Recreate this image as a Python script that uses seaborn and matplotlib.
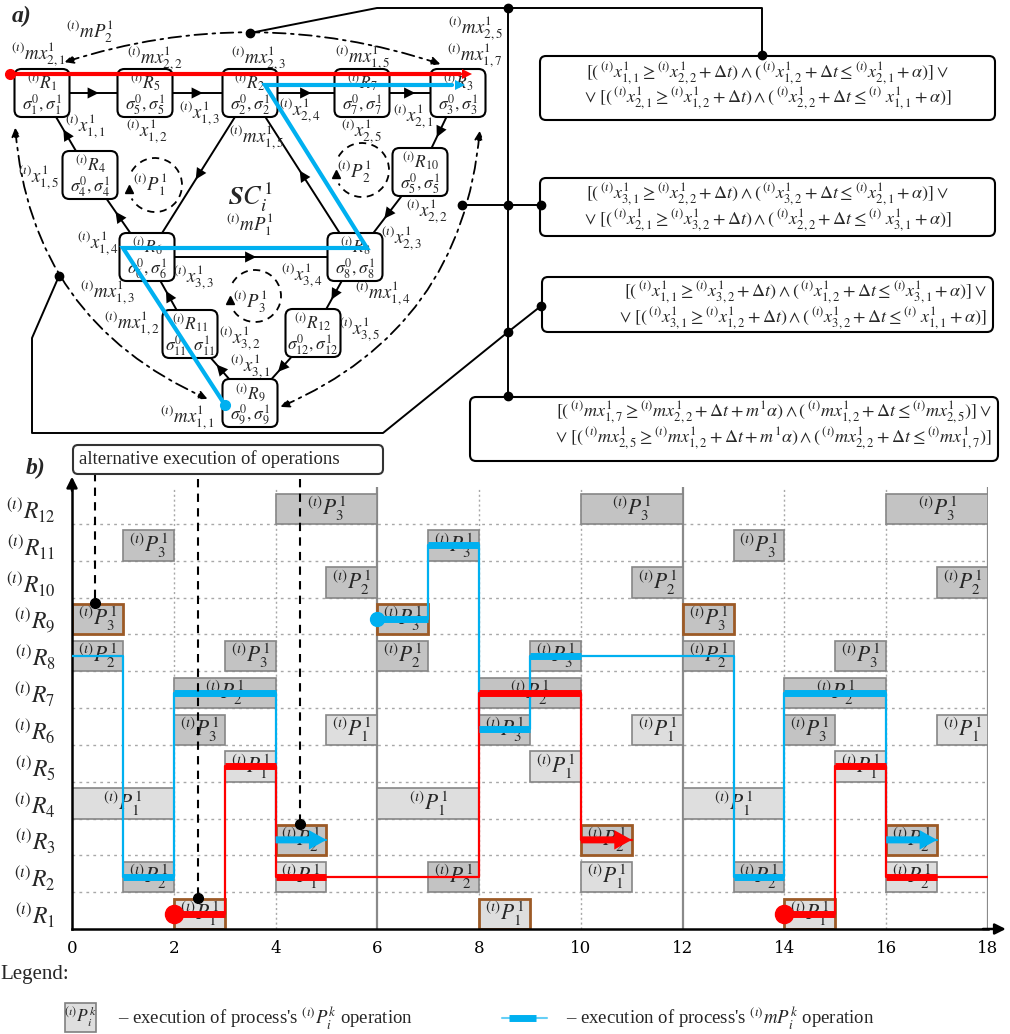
import matplotlib
matplotlib.use("Agg")
import matplotlib.pyplot as plt
import seaborn as sns
import pandas as pd
from matplotlib.patches import FancyBboxPatch, Arc, FancyArrowPatch

# ====================== (b) schedule data ======================
time_ticks = [0, 2, 4, 6, 8, 10, 12, 14, 16, 18]
resources = list(range(1, 13))
row_labels = [r"${}^{(\imath)}R_{%d}$" % r for r in resources]

op_row = [1, 1, 1,
          2, 2, 2, 2, 2, 2,
          3, 3, 3,
          4, 4, 4,
          5, 5, 5,
          6, 6, 6, 6, 6, 6,
          7, 7, 7,
          8, 8, 8, 8, 8, 8,
          9, 9, 9,
          10, 10, 10,
          11, 11, 11,
          12, 12, 12]
op_start = [2, 8, 14,
            1, 4, 7, 10, 13, 16,
            4, 10, 16,
            0, 6, 12,
            3, 9, 15,
            2, 5, 8, 11, 14, 17,
            2, 8, 14,
            0, 3, 6, 9, 12, 15,
            0, 6, 12,
            5, 11, 17,
            1, 7, 13,
            4, 10, 16]
op_end = [3, 9, 15,
          2, 5, 8, 11, 14, 17,
          5, 11, 17,
          2, 8, 14,
          4, 10, 16,
          3, 6, 9, 12, 15, 18,
          4, 10, 16,
          1, 4, 7, 10, 13, 16,
          1, 7, 13,
          6, 12, 18,
          2, 8, 14,
          6, 12, 18]
op_proc = [1, 1, 1,
           2, 1, 2, 1, 2, 2,
           2, 2, 2,
           1, 1, 1,
           1, 1, 1,
           3, 1, 3, 1, 3, 1,
           2, 2, 2,
           2, 3, 2, 3, 2, 3,
           3, 3, 3,
           2, 2, 2,
           3, 3, 3,
           3, 3, 3]
op_shade = ["L", "L", "L",
            "D", "L", "D", "L", "D", "L",
            "D", "D", "D",
            "L", "L", "L",
            "L", "L", "L",
            "D", "L", "D", "L", "D", "L",
            "D", "D", "D",
            "D", "D", "D", "D", "D", "D",
            "D", "D", "D",
            "D", "D", "D",
            "D", "D", "D",
            "D", "D", "D"]
op_alt = [1, 1, 1,
          0, 0, 0, 0, 0, 0,
          1, 1, 1,
          0, 0, 0,
          0, 0, 0,
          0, 0, 0, 0, 0, 0,
          0, 0, 0,
          0, 0, 0, 0, 0, 0,
          1, 1, 1,
          0, 0, 0,
          0, 0, 0,
          0, 0, 0]

# multimodal process (i)mP (blue) route: times and resources
mp_route_a_t = [-0.15, 1, 1, 2, 2, 4, 4, 5]
mp_route_a_r = [8, 8, 2, 2, 7, 7, 3, 3]
mp_route_b_t = [6, 7, 7, 8, 8, 9, 9, 13, 13, 14, 14, 16, 16, 17]
mp_route_b_r = [9, 9, 11, 11, 6, 6, 8, 8, 2, 2, 7, 7, 3, 3]
mp_ops_r = [2, 7, 3, 9, 11, 6, 8, 2, 7, 3]
mp_ops_s = [1, 2, 4, 6, 7, 8, 9, 13, 14, 16]
mp_ops_e = [2, 4, 5, 7, 8, 9, 10, 14, 16, 17]
mp_ops_arrow = [0, 0, 1, 0, 0, 0, 0, 0, 0, 1]
mp_start_t, mp_start_r = [6], [9]

# process (i)P (red) route
p_route_a_t = [2, 3, 3, 4, 4, 8, 8, 10, 10, 11]
p_route_a_r = [1, 1, 5, 5, 2, 2, 7, 7, 3, 3]
p_route_b_t = [14, 15, 15, 16, 16, 18]
p_route_b_r = [1, 1, 5, 5, 2, 2]
p_ops_r = [1, 5, 2, 7, 3, 1, 5, 2]
p_ops_s = [2, 3, 4, 8, 10, 14, 15, 16]
p_ops_e = [3, 4, 5, 10, 11, 15, 16, 17]
p_ops_arrow = [0, 0, 0, 0, 1, 0, 0, 0]
p_start_t, p_start_r = [2, 14], [1, 1]

# alternative execution markers (time, resource)
alt_mark_t = [0.45, 2.47, 4.49]
alt_mark_r = [9, 1, 3]

# ====================== (a) diagram content ======================
node_ids = [1, 5, 2, 7, 3, 4, 10, 6, 8, 11, 12, 9]
node_sig = [1, 5, 2, 7, 3, 4, 5, 6, 8, 11, 12, 9]
node_px = [42, 145, 250, 362, 458, 90, 420, 147, 355, 190, 313, 250]
node_py = [93, 93, 93, 93, 93, 175, 172, 257, 257, 334, 333, 403]
edges = [(1, 5), (5, 2), (2, 7), (7, 3), (3, 10), (10, 8), (8, 12), (12, 9),
         (9, 11), (11, 6), (6, 4), (4, 1), (2, 6), (8, 2), (6, 8)]
diag_labels = [
    (r"${}^{(\imath)}mP^1_2$", 90, 32),
    (r"${}^{(\imath)}mx^1_{2,1}$", 38, 54),
    (r"${}^{(\imath)}mx^1_{2,2}$", 155, 58),
    (r"${}^{(\imath)}mx^1_{2,3}$", 258, 58),
    (r"${}^{(\imath)}mx^1_{1,5}$", 362, 57),
    (r"${}^{(\imath)}mx^1_{2,5}$", 475, 28),
    (r"${}^{(\imath)}mx^1_{1,7}$", 475, 55),
    (r"${}^{(\imath)}x^1_{1,1}$", 85, 126),
    (r"${}^{(\imath)}x^1_{1,2}$", 147, 131),
    (r"${}^{(\imath)}x^1_{1,3}$", 200, 113),
    (r"${}^{(\imath)}x^1_{2,4}$", 300, 110),
    (r"${}^{(\imath)}mx^1_{1,5}$", 256, 137),
    (r"${}^{(\imath)}x^1_{2,1}$", 413, 116),
    (r"${}^{(\imath)}x^1_{2,5}$", 362, 131),
    (r"${}^{(\imath)}x^1_{1,5}$", 39, 177),
    (r"${}^{(\imath)}P^1_1$", 150, 185),
    (r"${}^{(\imath)}P^1_2$", 354, 172),
    (r"${}^{(\imath)}P^1_3$", 250, 302),
    (r"${}^{(\imath)}mP^1_1$", 250, 225),
    (r"${}^{(\imath)}x^1_{2,2}$", 427, 211),
    (r"${}^{(\imath)}x^1_{1,4}$", 98, 243),
    (r"${}^{(\imath)}x^1_{2,3}$", 402, 238),
    (r"${}^{(\imath)}x^1_{3,3}$", 194, 277),
    (r"${}^{(\imath)}x^1_{3,4}$", 302, 275),
    (r"${}^{(\imath)}mx^1_{1,3}$", 107, 292),
    (r"${}^{(\imath)}mx^1_{1,4}$", 383, 293),
    (r"${}^{(\imath)}mx^1_{1,2}$", 132, 323),
    (r"${}^{(\imath)}x^1_{3,2}$", 240, 338),
    (r"${}^{(\imath)}x^1_{3,5}$", 360, 329),
    (r"${}^{(\imath)}x^1_{3,1}$", 250, 366),
    (r"${}^{(\imath)}mx^1_{1,1}$", 187, 417),
]
formulas = [
    (r"$[(\,{}^{(\imath)}x^1_{1,1} \geq {}^{(\imath)}x^1_{2,2} + \Delta t) \wedge (\,{}^{(\imath)}x^1_{1,2} + \Delta t \leq {}^{(\imath)}x^1_{2,1} + \alpha)] \vee$",
     r"$\vee\ [(\,{}^{(\imath)}x^1_{2,1} \geq {}^{(\imath)}x^1_{1,2} + \Delta t) \wedge (\,{}^{(\imath)}x^1_{2,2} + \Delta t \leq{}^{(\imath)}\ x^1_{1,1} + \alpha)]$"),
    (r"$[(\,{}^{(\imath)}x^1_{3,1} \geq {}^{(\imath)}x^1_{2,2} + \Delta t) \wedge (\,{}^{(\imath)}x^1_{3,2} + \Delta t \leq {}^{(\imath)}x^1_{2,1} + \alpha)] \vee$",
     r"$\vee\ [(\,{}^{(\imath)}x^1_{2,1} \geq {}^{(\imath)}x^1_{3,2} + \Delta t) \wedge (\,{}^{(\imath)}x^1_{2,2} + \Delta t \leq{}^{(\imath)}\ x^1_{3,1} + \alpha)]$"),
    (r"$[(\,{}^{(\imath)}x^1_{1,1} \geq {}^{(\imath)}x^1_{3,2} + \Delta t) \wedge (\,{}^{(\imath)}x^1_{1,2} + \Delta t \leq {}^{(\imath)}x^1_{3,1} + \alpha)] \vee$",
     r"$\vee\ [(\,{}^{(\imath)}x^1_{3,1} \geq {}^{(\imath)}x^1_{1,2} + \Delta t) \wedge (\,{}^{(\imath)}x^1_{3,2} + \Delta t \leq{}^{(\imath)}\ x^1_{1,1} + \alpha)]$"),
    (r"$[(\,{}^{(\imath)}mx^1_{1,7} \geq {}^{(\imath)}mx^1_{2,2} + \Delta t + m^1\alpha) \wedge (\,{}^{(\imath)}mx^1_{1,2} + \Delta t \leq {}^{(\imath)}mx^1_{2,5})] \vee$",
     r"$\vee\ [(\,{}^{(\imath)}mx^1_{2,5} \geq {}^{(\imath)}mx^1_{1,2} + \Delta t + m^1\alpha) \wedge (\,{}^{(\imath)}mx^1_{2,2} + \Delta t \leq {}^{(\imath)}mx^1_{1,7})]$"),
]

# ====================== style ======================
sns.set_theme(style="white")
plt.rcParams["font.family"] = ["Liberation Serif", "DejaVu Serif"]
plt.rcParams["mathtext.fontset"] = "stix"

LIGHT, DARK = "#dedede", "#c3c3c3"
EDGE, ALT_EDGE = "#868686", "#9c5a26"
BLUE, RED = "#00b0f0", "#ff0000"
BOX_H, LEV = 0.82, 0.42

W, H = 1010, 1034
fig = plt.figure(figsize=(W / 100, H / 100), dpi=100)


def frac(l, t, r, b):
    return [l / W, 1 - b / H, (r - l) / W, (b - t) / H]


# ---------------------- (b) Gantt axes ----------------------
ax = fig.add_axes(frac(72, 487, 988, 929))
ax.set_facecolor("none")

for yv in range(1, 12):
    ax.plot([0, 18], [yv, yv], color="#a8a8a8", lw=1.0, ls=(0, (2, 3)), zorder=0)
for xv in time_ticks[1:]:
    if xv % 6 == 0:
        ax.plot([xv, xv], [0, 12], color="#8a8a8a", lw=1.6, zorder=0.5)
    else:
        ax.plot([xv, xv], [0, 12], color="#a8a8a8", lw=1.0, ls=(0, (1.5, 2)), zorder=0.5)

ops = pd.DataFrame(dict(row=op_row, start=op_start, end=op_end, proc=op_proc,
                        shade=op_shade, alt=op_alt))
ax.barh(ops["row"] - 1 + BOX_H / 2, ops["end"] - ops["start"], left=ops["start"],
        height=BOX_H,
        color=[LIGHT if s == "L" else DARK for s in ops["shade"]],
        edgecolor=[ALT_EDGE if a else EDGE for a in ops["alt"]],
        linewidth=[2.0 if a else 1.2 for a in ops["alt"]], zorder=2)
for _, o in ops.iterrows():
    ax.text((o["start"] + o["end"]) / 2, o["row"] - 1 + BOX_H / 2,
            r"${}^{(\imath)}P^{1}_{%d}$" % o["proc"], ha="center", va="center",
            fontsize=15.5, zorder=3)


def route(ts, rs, color):
    d = pd.DataFrame({"t": ts, "y": [r - 1 + LEV for r in rs]})
    sns.lineplot(data=d, x="t", y="y", sort=False, estimator=None, color=color,
                 lw=1.6, ax=ax, zorder=4, legend=False)


route(mp_route_a_t, mp_route_a_r, BLUE)
route(mp_route_b_t, mp_route_b_r, BLUE)
route(p_route_a_t, p_route_a_r, RED)
route(p_route_b_t, p_route_b_r, RED)


def thick(rs, ss, es, arr, color):
    for r, s, e, a in zip(rs, ss, es, arr):
        y = r - 1 + LEV
        if a:
            ax.annotate("", xy=(e, y), xytext=(s, y), zorder=6,
                        arrowprops=dict(arrowstyle="simple,tail_width=0.36,head_width=1.0,head_length=0.9",
                                        fc=color, ec="none", mutation_scale=14,
                                        shrinkA=0, shrinkB=0))
        else:
            ax.plot([s, e], [y, y], color=color, lw=5, solid_capstyle="butt", zorder=6)


thick(mp_ops_r, mp_ops_s, mp_ops_e, mp_ops_arrow, BLUE)
thick(p_ops_r, p_ops_s, p_ops_e, p_ops_arrow, RED)
ax.plot(mp_start_t, [r - 1 + LEV for r in mp_start_r], "o", color=BLUE, ms=10, zorder=7)
ax.plot(p_start_t, [r - 1 + LEV for r in p_start_r], "o", color=RED, ms=13, zorder=7)

for i, (t, r) in enumerate(zip(alt_mark_t, alt_mark_r)):
    ytop = 12.39 if i == 0 else 12.23
    yb = r - 1 + BOX_H + 0.03
    ax.plot([t, t], [ytop, yb], color="black", lw=1.5, ls=(0, (4, 3)), clip_on=False, zorder=8)
    ax.plot([t], [yb], "o", color="black", ms=7, clip_on=False, zorder=8)

ax.set_xlim(0, 18)
ax.set_ylim(0, 12)
ax.set_xlabel("")
ax.set_ylabel("")
ax.set_xticks(time_ticks)
ax.set_xticklabels([str(t) for t in time_ticks], fontsize=12, family="DejaVu Serif")
ax.set_yticks([r - 1 + 0.45 for r in resources])
ax.set_yticklabels(row_labels, fontsize=17)
ax.tick_params(axis="y", length=0, pad=12)
ax.tick_params(axis="x", length=3, width=1.2, pad=5, colors="black")
for s in ["top", "right"]:
    ax.spines[s].set_visible(False)
for s in ["left", "bottom"]:
    ax.spines[s].set_color("black")
    ax.spines[s].set_linewidth(1.8)
ax.annotate("", xy=(18.35, 0), xytext=(17.9, 0), annotation_clip=False,
            arrowprops=dict(arrowstyle="-|>", color="black", lw=1.8, mutation_scale=16,
                            shrinkA=0, shrinkB=0))
ax.annotate("", xy=(0, 12.28), xytext=(0, 11.9), annotation_clip=False,
            arrowprops=dict(arrowstyle="-|>", color="black", lw=1.8, mutation_scale=16,
                            shrinkA=0, shrinkB=0))

# ---------------------- overlay (diagram, boxes, legend) ----------------------
ov = fig.add_axes([0, 0, 1, 1])
ov.set_xlim(0, W)
ov.set_ylim(H, 0)
ov.axis("off")
ov.patch.set_alpha(0)

ov.text(22, 16, "a)", fontsize=17, fontweight="bold", fontstyle="italic", ha="center", va="center")
ov.text(36, 468, "b)", fontsize=17, fontweight="bold", fontstyle="italic", ha="center", va="center")

ov.add_patch(FancyBboxPatch((73, 445), 310, 29, boxstyle="round,pad=0,rounding_size=5",
                            fc="white", ec="#333333", lw=1.5))
ov.text(79, 459.5, "alternative execution of operations", fontsize=13.5, ha="left", va="center")

pos = {n: (x, y) for n, x, y in zip(node_ids, node_px, node_py)}
BW, BH = 55, 48

# connector lines
K = dict(color="black", lw=1.4, solid_capstyle="round", zorder=1)
ov.plot([250, 377, 762, 762], [33, 8, 8, 55], **K)
ov.plot([508, 508], [8, 396], **K)
ov.plot([462, 541], [205, 205], **K)
ov.plot([59, 32, 32, 383, 508, 541], [276, 338, 433, 433, 332, 306], **K)
ov.plot([250, 508, 762, 462, 508, 541, 59, 508, 541, 508],
        [33, 8, 55, 205, 205, 205, 276, 332, 306, 396], "o", color="black", ms=6, zorder=5)

# dash-dot curves
DD = (0, (7, 3, 1.5, 3))
for a, b, rad in [((62, 63), (443, 65), -0.165), ((15, 125), (210, 400), 0.3),
                  ((278, 408), (480, 128), 0.3)]:
    ov.add_patch(FancyArrowPatch(a, b, connectionstyle="arc3,rad=%f" % rad,
                                 arrowstyle="<|-|>", mutation_scale=13, lw=1.3,
                                 linestyle=DD, color="black", zorder=2))

# solid edges
for a, b in edges:
    (x0, y0), (x1, y1) = pos[a], pos[b]
    ov.plot([x0, x1], [y0, y1], color="black", lw=1.4, zorder=2)
    mx, my = (x0 + x1) / 2, (y0 + y1) / 2
    dx, dy = (x1 - x0), (y1 - y0)
    L = (dx * dx + dy * dy) ** 0.5
    ov.add_patch(FancyArrowPatch((mx - 8 * dx / L, my - 8 * dy / L), (mx + 8 * dx / L, my + 8 * dy / L),
                                 arrowstyle="-|>", mutation_scale=20, lw=0, color="black", zorder=3))
ov.plot([pos[2][0], pos[3][0]], [86, 86], color="black", lw=1.4, zorder=2)

# nodes
for n, s in zip(node_ids, node_sig):
    x, y = pos[n]
    ov.add_patch(FancyBboxPatch((x - BW / 2, y - BH / 2), BW, BH,
                                boxstyle="round,pad=0,rounding_size=7",
                                fc="white", ec="black", lw=1.5, zorder=4))
    ov.text(x, y - 10, r"${}^{(\imath)}R_{%d}$" % n, fontsize=12.5, ha="center", va="center", zorder=5)
    ov.text(x, y + 12, r"$\sigma^0_{%d},\sigma^1_{%d}$" % (s, s), fontsize=12.5,
            ha="center", va="center", zorder=5)

# dashed process circles
for cx, cy, r in [(155, 185, 27), (362, 170, 27), (255, 296, 26)]:
    ov.add_patch(Arc((cx, cy), 2 * r, 2 * r, theta1=-150, theta2=150, lw=1.3,
                     ls=(0, (4, 3)), color="black", zorder=2))
    ov.plot([cx - r * 0.95], [cy + 4], marker="^", color="black", ms=6, zorder=2)

for t, x, y in diag_labels:
    ov.text(x, y, t, fontsize=13.5, ha="center", va="center", zorder=6)
ov.text(250, 197, r"$\boldsymbol{SC^1_i}$", fontsize=19, ha="center", va="center", zorder=6)

# red and blue routes in diagram
ov.plot([10, 460], [74, 74], color=RED, lw=3, zorder=7)
ov.annotate("", xy=(472, 74), xytext=(455, 74),
            arrowprops=dict(arrowstyle="-|>", color=RED, lw=0, mutation_scale=18, shrinkA=0, shrinkB=0), zorder=7)
ov.plot([10], [74], "o", color=RED, ms=7, zorder=7)
ov.plot([225, 123, 367, 265, 452], [405, 248, 248, 85, 85], color=BLUE, lw=3, zorder=7,
        solid_joinstyle="miter")
ov.annotate("", xy=(465, 85), xytext=(448, 85),
            arrowprops=dict(arrowstyle="-|>", color=BLUE, lw=0, mutation_scale=18, shrinkA=0, shrinkB=0), zorder=7)
ov.plot([225], [405], "o", color=BLUE, ms=7, zorder=7)

# formula boxes: x, y, w, h, alignment, line-1 / line-2 vertical fractions
fboxes = [(540, 56, 455, 64, "center", 0.26, 0.66), (540, 178, 455, 58, "center", 0.27, 0.72),
          (542, 277, 451, 55, "right", 0.27, 0.74), (470, 397, 528, 64, "right", 0.24, 0.64)]
for (x, y, w, h, al, f1, f2), (l1, l2) in zip(fboxes, formulas):
    ov.add_patch(FancyBboxPatch((x, y), w, h, boxstyle="round,pad=0,rounding_size=6",
                                fc="white", ec="black", lw=1.5, zorder=3))
    if al == "center":
        ov.text(x + w / 2, y + h * f1, l1, fontsize=13, ha="center", va="center", zorder=4)
        ov.text(x + w / 2, y + h * f2, l2, fontsize=13, ha="center", va="center", zorder=4)
    else:
        ov.text(x + w - 6, y + h * f1, l1, fontsize=13, ha="right", va="center", zorder=4)
        ov.text(x + w - 6, y + h * f2, l2, fontsize=13, ha="right", va="center", zorder=4)

# legend
ov.text(0, 975, "Legend:", fontsize=15, ha="left", va="center")
ov.add_patch(plt.Rectangle((65, 1003), 31, 29, fc=LIGHT, ec="#808080", lw=1.2))
ov.text(80.5, 1017, r"${}^{(\imath)}P^k_i$", fontsize=12.5, ha="center", va="center")
ov.text(118, 1018, r"– execution of process's ${}^{(\imath)}P^k_i$ operation", fontsize=13.5,
        ha="left", va="center")
ov.plot([502, 547], [1018, 1018], color=BLUE, lw=1.5, alpha=0.6)
ov.plot([509, 536], [1018, 1018], color=BLUE, lw=5, solid_capstyle="butt")
ov.text(566, 1018, r"– execution of process's ${}^{(\imath)}mP^k_i$ operation", fontsize=13.5,
        ha="left", va="center")

fig.savefig("out.png", dpi=100)
